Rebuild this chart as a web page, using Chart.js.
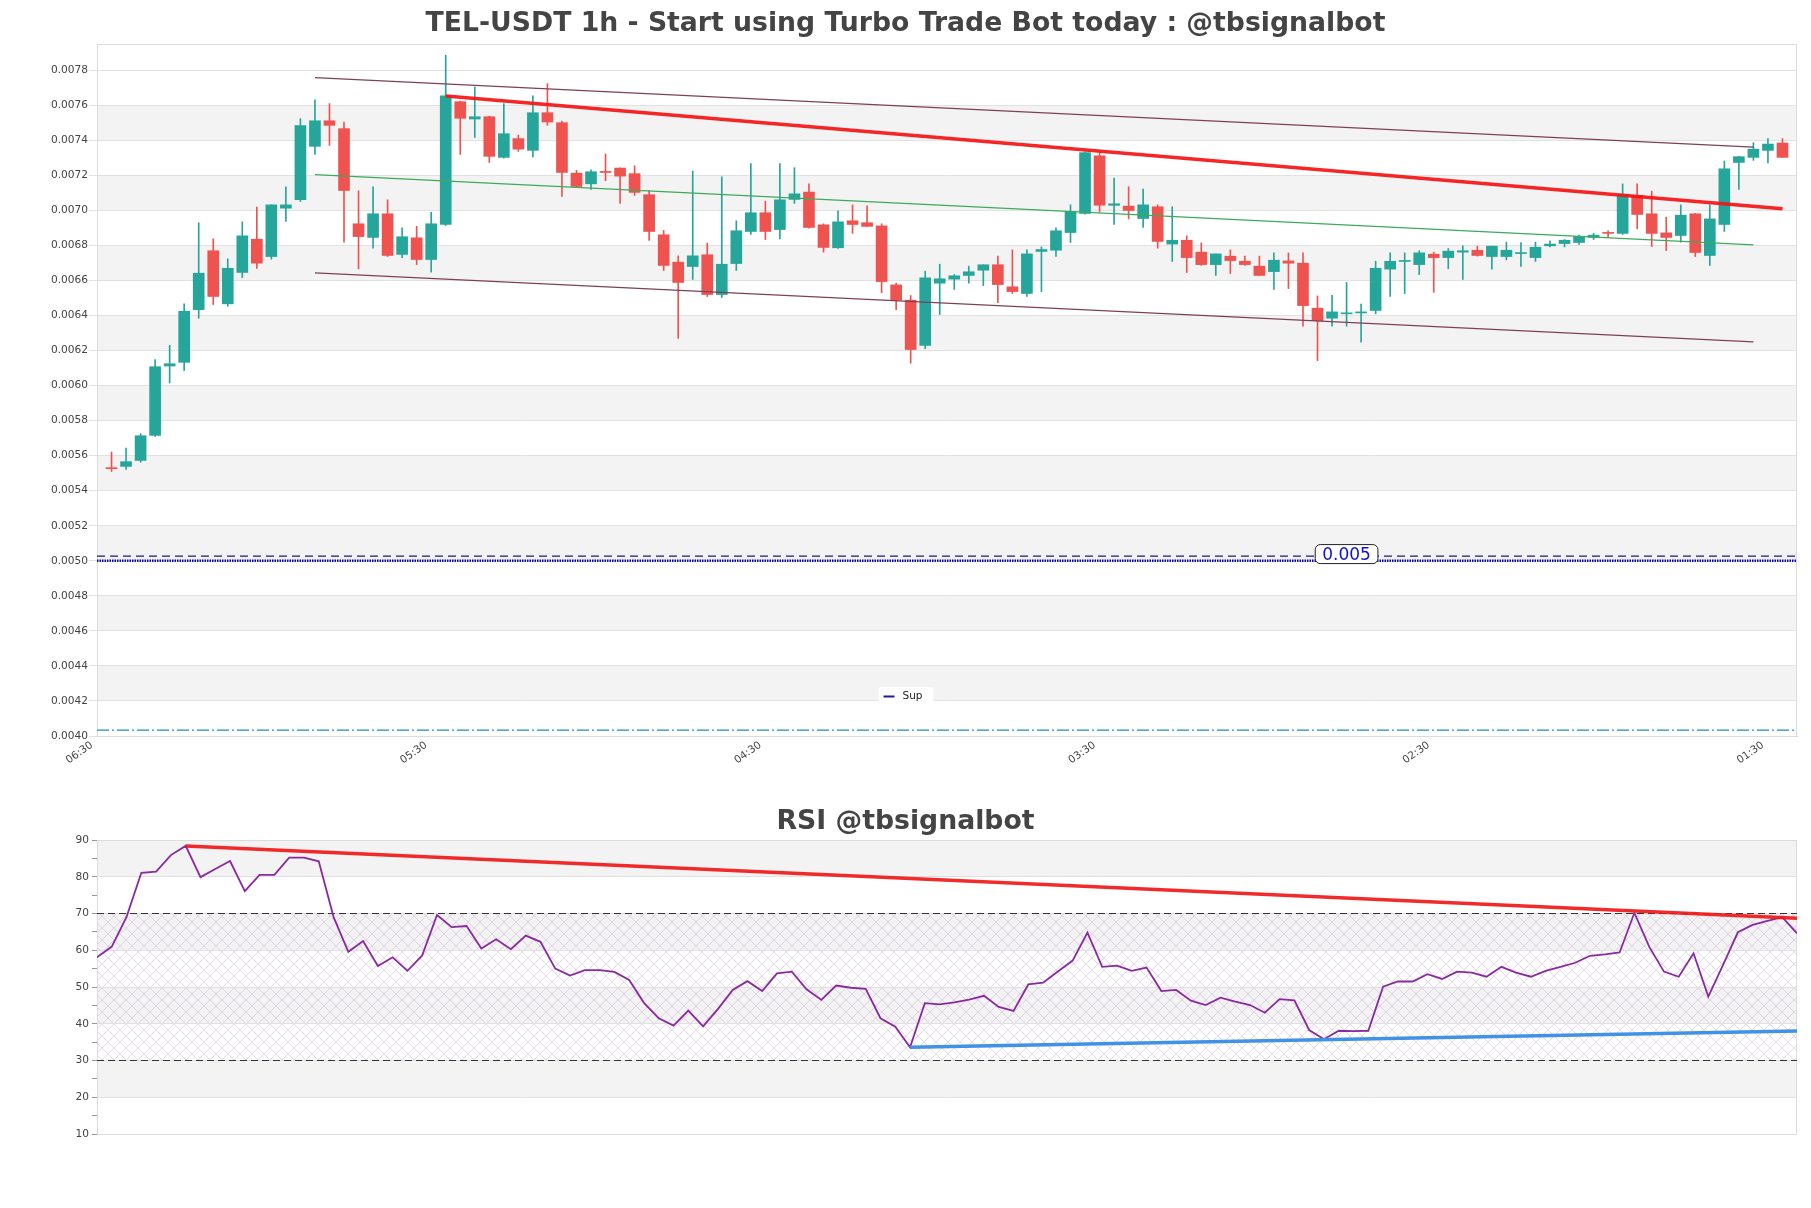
<!DOCTYPE html>
<html lang="en">
<head>
<meta charset="UTF-8">
<title>TEL-USDT 1h</title>
<script src="https://cdn.jsdelivr.net/npm/chart.js@4.4.1/dist/chart.umd.min.js"></script>
<style>
    html, body { margin: 0; padding: 0; background: #ffffff; }
    #wrap { position: relative; width: 1811px; height: 1208px; }
    #priceChart { position: absolute; left: 0; top: 0; }
    #rsiChart { position: absolute; left: 0; top: 790px; }
</style>
</head>
<body>
<div id="wrap">
    <canvas id="priceChart" width="1811" height="790"></canvas>
    <canvas id="rsiChart" width="1811" height="418"></canvas>
</div>

<script>
// x axis labels (one every 23 candles)
var tickPositions = [0, 23, 46, 69, 92, 115];
var tickLabels = ['06:30', '05:30', '04:30', '03:30', '02:30', '01:30'];

// candles, oldest first
var opens = [
    0.005528, 0.005539, 0.005573, 0.005716, 0.006112, 0.006133, 0.006434, 0.006770, 0.006467, 0.006646,
    0.006836, 0.006737, 0.007013, 0.007061, 0.007366, 0.007512, 0.007467, 0.006924, 0.006846, 0.006981,
    0.006749, 0.006844, 0.006720, 0.006920, 0.007621, 0.007522, 0.007535, 0.007303, 0.007410, 0.007343,
    0.007558, 0.007501, 0.007213, 0.007152, 0.007223, 0.007242, 0.007210, 0.007090, 0.006861, 0.006705,
    0.006680, 0.006747, 0.006520, 0.006697, 0.006880, 0.006987, 0.006891, 0.007063, 0.007105, 0.006918,
    0.006787, 0.006941, 0.006930, 0.006912, 0.006575, 0.006488, 0.006230, 0.006585, 0.006608, 0.006629,
    0.006659, 0.006690, 0.006564, 0.006526, 0.006766, 0.006773, 0.006874, 0.006983, 0.007312, 0.007029,
    0.007025, 0.006954, 0.007021, 0.006808, 0.006830, 0.006762, 0.006691, 0.006739, 0.006710, 0.006682,
    0.006651, 0.006712, 0.006699, 0.006442, 0.006385, 0.006410, 0.006415, 0.006429, 0.006665, 0.006709,
    0.006691, 0.006750, 0.006731, 0.006762, 0.006773, 0.006737, 0.006737, 0.006754, 0.006731, 0.006798,
    0.006811, 0.006817, 0.006846, 0.006874, 0.006869, 0.007086, 0.006981, 0.006872, 0.006857, 0.006981,
    0.006743, 0.006920, 0.007274, 0.007303, 0.007343, 0.007385
];
var highs = [
    0.005621, 0.005644, 0.005726, 0.006149, 0.006230, 0.006467, 0.006930, 0.006838, 0.006724, 0.006935,
    0.007019, 0.007032, 0.007135, 0.007524, 0.007632, 0.007610, 0.007505, 0.007112, 0.007135, 0.007061,
    0.006901, 0.006910, 0.006990, 0.007886, 0.007625, 0.007705, 0.007538, 0.007610, 0.007430, 0.007655,
    0.007724, 0.007510, 0.007229, 0.007232, 0.007322, 0.007244, 0.007255, 0.007114, 0.006886, 0.006741,
    0.007225, 0.006813, 0.007192, 0.006941, 0.007267, 0.007053, 0.007267, 0.007244, 0.007152, 0.006924,
    0.006998, 0.007032, 0.007027, 0.006924, 0.006585, 0.006514, 0.006653, 0.006693, 0.006634, 0.006682,
    0.006690, 0.006739, 0.006775, 0.006775, 0.006792, 0.006901, 0.007032, 0.007335, 0.007328, 0.007185,
    0.007135, 0.007122, 0.007032, 0.007021, 0.006855, 0.006815, 0.006752, 0.006775, 0.006739, 0.006739,
    0.006758, 0.006758, 0.006758, 0.006512, 0.006516, 0.006589, 0.006465, 0.006710, 0.006758, 0.006758,
    0.006770, 0.006762, 0.006783, 0.006798, 0.006796, 0.006796, 0.006819, 0.006817, 0.006819, 0.006827,
    0.006834, 0.006859, 0.006869, 0.006884, 0.007152, 0.007152, 0.007110, 0.006962, 0.007032, 0.006983,
    0.007032, 0.007282, 0.007309, 0.007387, 0.007410, 0.007410
];
var lows = [
    0.005510, 0.005522, 0.005562, 0.005710, 0.006015, 0.006086, 0.006385, 0.006463, 0.006453, 0.006617,
    0.006669, 0.006722, 0.006937, 0.007051, 0.007320, 0.007371, 0.006819, 0.006667, 0.006785, 0.006737,
    0.006731, 0.006691, 0.006648, 0.006914, 0.007320, 0.007417, 0.007274, 0.007299, 0.007337, 0.007305,
    0.007486, 0.007080, 0.007130, 0.007120, 0.007170, 0.007040, 0.007086, 0.006829, 0.006657, 0.006270,
    0.006606, 0.006509, 0.006503, 0.006657, 0.006863, 0.006834, 0.006838, 0.007040, 0.006899, 0.006762,
    0.006783, 0.006869, 0.006909, 0.006531, 0.006434, 0.006128, 0.006211, 0.006406, 0.006549, 0.006585,
    0.006571, 0.006474, 0.006526, 0.006510, 0.006537, 0.006737, 0.006817, 0.006979, 0.006990, 0.006920,
    0.006952, 0.006903, 0.006785, 0.006709, 0.006646, 0.006686, 0.006629, 0.006640, 0.006686, 0.006627,
    0.006549, 0.006554, 0.006339, 0.006143, 0.006339, 0.006339, 0.006248, 0.006410, 0.006510, 0.006526,
    0.006634, 0.006533, 0.006667, 0.006606, 0.006739, 0.006665, 0.006718, 0.006680, 0.006709, 0.006792,
    0.006792, 0.006806, 0.006834, 0.006848, 0.006863, 0.006895, 0.006794, 0.006771, 0.006819, 0.006737,
    0.006686, 0.006880, 0.007120, 0.007286, 0.007272, 0.007303
];
var closes = [
    0.005526, 0.005566, 0.005714, 0.006108, 0.006125, 0.006425, 0.006642, 0.006509, 0.006670, 0.006855,
    0.006699, 0.007032, 0.007032, 0.007484, 0.007512, 0.007486, 0.007114, 0.006851, 0.006981, 0.006743,
    0.006850, 0.006720, 0.006924, 0.007655, 0.007526, 0.007535, 0.007309, 0.007438, 0.007350, 0.007558,
    0.007505, 0.007217, 0.007137, 0.007221, 0.007217, 0.007196, 0.007103, 0.006880, 0.006686, 0.006589,
    0.006741, 0.006520, 0.006693, 0.006884, 0.006987, 0.006880, 0.007061, 0.007095, 0.006903, 0.006789,
    0.006935, 0.006920, 0.006909, 0.006594, 0.006488, 0.006206, 0.006615, 0.006610, 0.006627, 0.006650,
    0.006690, 0.006577, 0.006537, 0.006752, 0.006777, 0.006884, 0.006994, 0.007330, 0.007030, 0.007038,
    0.007000, 0.007032, 0.006823, 0.006830, 0.006731, 0.006691, 0.006752, 0.006714, 0.006691, 0.006629,
    0.006716, 0.006699, 0.006457, 0.006371, 0.006421, 0.006415, 0.006421, 0.006670, 0.006710, 0.006714,
    0.006758, 0.006731, 0.006768, 0.006770, 0.006743, 0.006796, 0.006773, 0.006758, 0.006790, 0.006808,
    0.006830, 0.006851, 0.006859, 0.006869, 0.007091, 0.006977, 0.006869, 0.006846, 0.006973, 0.006760,
    0.006952, 0.007238, 0.007307, 0.007350, 0.007379, 0.007303
];

// trend lines on the price chart: [candle position, price]
var upperChannel = [[15, 0.007758], [114, 0.007362]];
var middleChannel = [[15, 0.007204], [114, 0.006804]];
var lowerChannel = [[15, 0.006644], [114, 0.006250]];
var resistanceLine = [[24, 0.007653], [116, 0.007010]];
var supportLevel = 0.005;
var supportUpper = 0.005027;
var bottomLevel = 0.004033;

// RSI values
var rsiValues = [
    58.1, 61.0, 69.1, 81.1, 81.4, 85.9, 88.4, 79.9, 82.1, 84.3,
    76.1, 80.5, 80.5, 85.2, 85.2, 84.2, 69.1, 59.6, 62.5, 55.7,
    58.1, 54.4, 58.6, 69.6, 66.3, 66.6, 60.5, 63.0, 60.3, 64.0,
    62.3, 55.0, 53.1, 54.6, 54.6, 54.1, 51.9, 45.7, 41.5, 39.5,
    43.6, 39.3, 44.0, 49.2, 51.6, 48.9, 53.7, 54.2, 49.4, 46.5,
    50.4, 49.8, 49.5, 41.5, 39.2, 33.6, 45.6, 45.3, 45.8, 46.6,
    47.6, 44.6, 43.5, 50.7, 51.2, 54.2, 57.2, 64.8, 55.5, 55.8,
    54.4, 55.3, 48.9, 49.2, 46.3, 45.1, 47.1, 46.0, 45.1, 43.0,
    46.7, 46.4, 38.3, 35.8, 38.1, 38.0, 38.1, 50.1, 51.5, 51.5,
    53.5, 52.2, 54.2, 53.9, 52.8, 55.5, 53.9, 52.8, 54.4, 55.5,
    56.6, 58.5, 58.9, 59.4, 70.2, 61.0, 54.2, 52.8, 59.2, 47.4,
    56.0, 64.9, 66.9, 68.0, 69.0, 64.6
];
var rsiResistance = [[6, 88.4], [115, 68.7]];
var rsiSupport = [[55, 33.6], [115, 38.0]];
var rsiLevels = [30, 70];

var UP = '#26a69a';
var DOWN = '#ef5350';

Chart.defaults.font.family = 'DejaVu Sans';
Chart.defaults.color = '#555';

function toPoints(pairs) {
    return pairs.map(function(p) { return { x: p[0], y: p[1] }; });
}

// grey stripes between every other labelled tick, optional hatch, plot frame
var bandsPlugin = {
    id: 'bands',
    beforeDraw: function(chart, args, opts) {
        var area = chart.chartArea;
        var ctx = chart.ctx;
        var y = chart.scales.y;
        var major = y.ticks.filter(function(t) { return t.label !== ''; });
        ctx.save();
        ctx.fillStyle = '#f3f3f3';
        for (var i = 1; i < major.length - 1; i += 2) {
            var top = y.getPixelForValue(major[i + 1].value);
            var bottom = y.getPixelForValue(major[i].value);
            ctx.fillRect(area.left, top, area.right - area.left, bottom - top);
        }
        if (opts.hatch) {
            var pc = document.createElement('canvas');
            pc.width = 12; pc.height = 12;
            var p = pc.getContext('2d');
            p.strokeStyle = 'rgba(200, 165, 212, 0.6)';
            p.lineWidth = 0.7;
            p.beginPath();
            p.moveTo(0, 0); p.lineTo(12, 12);
            p.moveTo(12, 0); p.lineTo(0, 12);
            p.stroke();
            ctx.fillStyle = ctx.createPattern(pc, 'repeat');
            var ht = y.getPixelForValue(opts.hatch[1]);
            var hb = y.getPixelForValue(opts.hatch[0]);
            ctx.fillRect(area.left, ht, area.right - area.left, hb - ht);
        }
        ctx.restore();
    },
    beforeDatasetsDraw: function(chart) {
        var area = chart.chartArea;
        var ctx = chart.ctx;
        ctx.save();
        ctx.strokeStyle = '#dcdcdc';
        ctx.lineWidth = 1;
        ctx.strokeRect(area.left + 0.5, area.top + 0.5, area.right - area.left - 1, area.bottom - area.top);
        ctx.restore();
    }
};

// the "0.005" value tag and the "Sup" legend box
var tagsPlugin = {
    id: 'tags',
    afterDatasetsDraw: function(chart, args, opts) {
        if (!opts.tagAt) return;
        var ctx = chart.ctx;
        var x = chart.scales.x.getPixelForValue(opts.tagAt);
        var y = chart.scales.y.getPixelForValue(supportUpper) - 2;
        ctx.save();
        ctx.font = '17px "DejaVu Sans"';
        var w = ctx.measureText(opts.tagText).width + 14;
        ctx.beginPath();
        ctx.roundRect(x - w / 2, y - 9.5, w, 19, 5);
        ctx.fillStyle = '#ffffff';
        ctx.fill();
        ctx.strokeStyle = '#222';
        ctx.lineWidth = 1;
        ctx.stroke();
        ctx.fillStyle = '#1010d8';
        ctx.textAlign = 'center';
        ctx.textBaseline = 'middle';
        ctx.fillText(opts.tagText, x, y + 1);

        // legend box
        var lx = chart.width / 2 - 27;
        var ly = chart.chartArea.bottom - 49;
        ctx.beginPath();
        ctx.roundRect(lx, ly, 55, 17, 3);
        ctx.fillStyle = '#ffffff';
        ctx.fill();
        ctx.strokeStyle = '#1a1aa6';
        ctx.lineWidth = 2;
        ctx.beginPath();
        ctx.moveTo(lx + 5, ly + 9.5);
        ctx.lineTo(lx + 16, ly + 9.5);
        ctx.stroke();
        ctx.fillStyle = '#222';
        ctx.font = '10.5px "DejaVu Sans"';
        ctx.textAlign = 'left';
        ctx.fillText(opts.legendText, lx + 24, ly + 9);
        ctx.restore();
    }
};

function buildPriceChart() {
    var bodies = [], wicks = [], colors = [];
    for (var i = 0; i < opens.length; i++) {
        bodies.push({ x: i + 1, y: [opens[i], closes[i]] });
        wicks.push({ x: i + 1, y: [lows[i], highs[i]] });
        colors.push(closes[i] >= opens[i] ? UP : DOWN);
    }
    var lastX = opens.length + 1;

    function flat(value) {
        return [{ x: 0, y: value }, { x: lastX, y: value }];
    }

    new Chart(document.getElementById('priceChart'), {
        type: 'bar',
        data: {
            datasets: [
                { type: 'line', data: toPoints(resistanceLine), borderColor: 'rgba(245, 20, 20, 0.92)', borderWidth: 3.5, pointRadius: 0, order: 0 },
                { type: 'line', data: toPoints(upperChannel), borderColor: '#7d4058', borderWidth: 1.2, pointRadius: 0, order: 0 },
                { type: 'line', data: toPoints(middleChannel), borderColor: '#3daa5c', borderWidth: 1.2, pointRadius: 0, order: 0 },
                { type: 'line', data: toPoints(lowerChannel), borderColor: '#7d4058', borderWidth: 1.2, pointRadius: 0, order: 0 },
                { type: 'line', label: 'Sup', data: flat(supportLevel), borderColor: '#0a0ac0', borderWidth: 2.5, borderDash: [1.5, 1], pointRadius: 0, order: 0 },
                { type: 'line', data: flat(supportUpper), borderColor: '#1a1a80', borderWidth: 1.2, borderDash: [8, 5], pointRadius: 0, order: 0 },
                { type: 'line', data: flat(bottomLevel), borderColor: '#1f8ccc', borderWidth: 1.2, borderDash: [12, 3, 2, 3], pointRadius: 0, order: 0 },
                { data: bodies, backgroundColor: colors, barThickness: 11, grouped: false, minBarLength: 1, order: 1 },
                { data: wicks, backgroundColor: colors, barThickness: 1, grouped: false, order: 2 }
            ]
        },
        options: {
            responsive: false,
            animation: false,
            devicePixelRatio: 1,
            // equal side padding keeps the title centred on the page
            layout: { padding: { left: 14, right: 14, top: 0, bottom: 0 } },
            plugins: {
                legend: { display: false },
                tooltip: { enabled: false },
                title: {
                    display: true,
                    text: 'TEL-USDT 1h - Start using Turbo Trade Bot today : @tbsignalbot',
                    color: '#444',
                    font: { size: 26.7, weight: 'bold' },
                    padding: { top: 8.5, bottom: 3.5 }
                },
                tags: { tagAt: 86, tagText: '0.005', legendText: 'Sup' }
            },
            scales: {
                x: {
                    type: 'linear',
                    min: 0,
                    max: lastX,
                    offset: false,
                    grid: { display: false, drawTicks: false },
                    border: { display: true, color: '#cfcfcf' },
                    afterBuildTicks: function(scale) {
                        scale.ticks = tickPositions.map(function(v) { return { value: v }; });
                    },
                    afterFit: function(scale) { scale.height = 54; },
                    ticks: {
                        autoSkip: false,
                        minRotation: 35,
                        maxRotation: 35,
                        padding: 3,
                        labelOffset: -5,
                        font: { size: 10.5 },
                        color: '#444',
                        callback: function(value) {
                            return tickLabels[tickPositions.indexOf(value)];
                        }
                    }
                },
                y: {
                    type: 'linear',
                    min: 0.0040,
                    max: 0.00795,
                    grid: { color: '#e2e2e2', tickLength: 8 },
                    border: { display: true, color: '#cfcfcf' },
                    afterFit: function(scale) { scale.width = 83; },
                    ticks: {
                        stepSize: 0.0002,
                        includeBounds: false,
                        padding: 1,
                        font: { size: 10.6 },
                        color: '#444',
                        callback: function(value) { return value.toFixed(4); }
                    }
                }
            }
        },
        plugins: [bandsPlugin, tagsPlugin]
    });
}

function buildRsiChart() {
    var rsiPoints = rsiValues.map(function(v, i) { return { x: i, y: v }; });
    var lastX = rsiValues.length - 1;
    var levelSets = rsiLevels.map(function(level) {
        return {
            data: [{ x: 0, y: level }, { x: lastX, y: level }],
            borderColor: '#333',
            borderWidth: 1,
            borderDash: [7, 4],
            pointRadius: 0
        };
    });

    new Chart(document.getElementById('rsiChart'), {
        type: 'line',
        data: {
            datasets: [
                { data: toPoints(rsiResistance), borderColor: 'rgba(240, 25, 25, 0.92)', borderWidth: 3.5, pointRadius: 0 },
                { data: toPoints(rsiSupport), borderColor: '#3f92e6', borderWidth: 3.5, pointRadius: 0 },
                { data: rsiPoints, borderColor: '#8a2aa0', borderWidth: 1.8, pointRadius: 0 }
            ].concat(levelSets)
        },
        options: {
            responsive: false,
            animation: false,
            devicePixelRatio: 1,
            layout: { padding: { left: 14, right: 14, top: 0, bottom: 74 } },
            plugins: {
                legend: { display: false },
                tooltip: { enabled: false },
                title: {
                    display: true,
                    text: 'RSI @tbsignalbot',
                    color: '#444',
                    font: { size: 26.7, weight: 'bold' },
                    padding: { top: 16, bottom: 2 }
                },
                bands: { hatch: rsiLevels }
            },
            scales: {
                x: { type: 'linear', min: 0, max: lastX, display: false },
                y: {
                    min: 10,
                    max: 90,
                    grid: {
                        color: function(ctx) {
                            return ctx.tick && ctx.tick.value % 10 === 0 ? '#e0e0e0' : 'rgba(0,0,0,0)';
                        },
                        tickColor: '#999',
                        tickLength: 5
                    },
                    border: { display: true, color: '#cfcfcf' },
                    afterFit: function(scale) { scale.width = 83; },
                    ticks: {
                        stepSize: 5,
                        padding: 3,
                        font: { size: 10.6 },
                        color: '#444',
                        callback: function(value) { return value % 10 === 0 ? value : ''; }
                    }
                }
            }
        },
        plugins: [bandsPlugin]
    });
}

window.addEventListener('load', function() {
    buildPriceChart();
    buildRsiChart();
});
</script>
</body>
</html>
